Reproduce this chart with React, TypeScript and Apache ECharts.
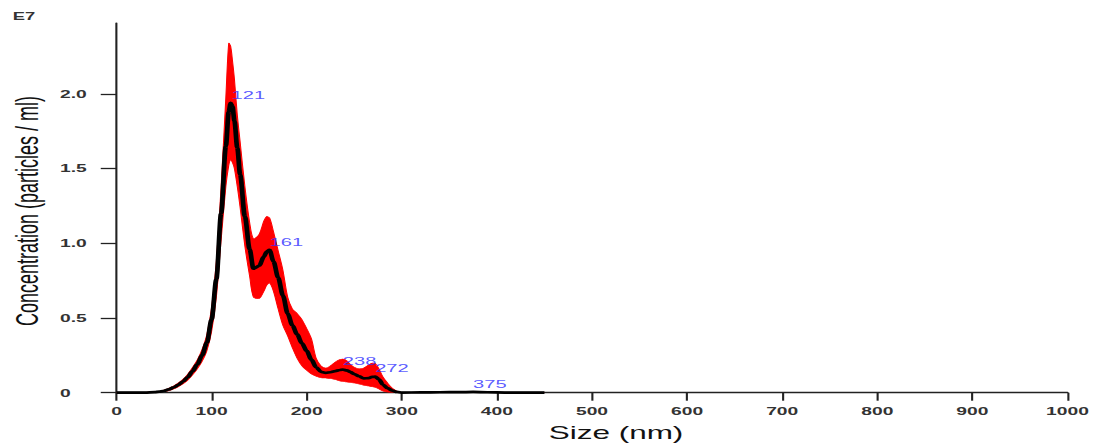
import React, { useEffect, useRef } from "react";
import * as echarts from "echarts";

// Size (nm)
const sizes = [
  0, 20, 30, 40, 45, 50, 55, 60, 65, 70,
  75, 80, 85, 90, 95, 100, 105, 110, 115, 118,
  120, 122, 124, 127, 130, 135, 140, 144, 150, 155, 158,
  161, 165, 170, 175, 180, 185, 190, 195, 200, 205,
  210, 215, 220, 225, 230, 235, 238, 242, 246, 250,
  255, 260, 265, 269, 272, 276, 280, 285, 290, 295,
  300, 320, 340, 360, 375, 390, 410, 430, 450,
];

// Mean concentration (E7 particles / ml)
const meanConc = [
  0, 0, 0.001, 0.004, 0.007, 0.013, 0.022, 0.035, 0.052, 0.075,
  0.105, 0.145, 0.19, 0.25, 0.335, 0.49, 0.76, 1.2, 1.65, 1.88,
  1.94, 1.915, 1.82, 1.64, 1.46, 1.18, 0.96, 0.83, 0.85, 0.91, 0.945,
  0.956, 0.88, 0.77, 0.65, 0.53, 0.45, 0.39, 0.33, 0.28, 0.22,
  0.17, 0.14, 0.133, 0.137, 0.145, 0.152, 0.155, 0.15, 0.138, 0.125,
  0.11, 0.096, 0.098, 0.106, 0.107, 0.09, 0.055, 0.03, 0.014, 0.005,
  0.001, 0.002, 0.003, 0.004, 0.005, 0.003, 0.001, 0, 0,
];

// Upper edge of the error band
const upperConc = [
  0, 0, 0.002, 0.006, 0.01, 0.018, 0.03, 0.045, 0.065, 0.09,
  0.125, 0.17, 0.22, 0.29, 0.39, 0.57, 0.88, 1.38, 1.98, 2.34,
  2.32, 2.22, 2.1, 1.86, 1.68, 1.38, 1.14, 1.03, 1.06, 1.15, 1.18,
  1.17, 1.08, 0.95, 0.82, 0.64, 0.56, 0.53, 0.49, 0.43, 0.36,
  0.23, 0.18, 0.165, 0.18, 0.205, 0.222, 0.225, 0.215, 0.19, 0.17,
  0.16, 0.165, 0.185, 0.198, 0.196, 0.16, 0.108, 0.065, 0.03, 0.01,
  0.002, 0.003, 0.004, 0.005, 0.006, 0.004, 0.001, 0, 0,
];

// Lower edge of the error band
const lowerConc = [
  0, 0, 0, 0.002, 0.004, 0.008, 0.014, 0.025, 0.04, 0.06,
  0.085, 0.12, 0.16, 0.21, 0.28, 0.41, 0.64, 1.02, 1.38, 1.52,
  1.56, 1.54, 1.5, 1.38, 1.24, 0.98, 0.78, 0.64, 0.63, 0.68, 0.72,
  0.735, 0.68, 0.56, 0.45, 0.38, 0.3, 0.23, 0.18, 0.15, 0.125,
  0.11, 0.1, 0.098, 0.095, 0.088, 0.078, 0.075, 0.072, 0.068, 0.065,
  0.058, 0.05, 0.045, 0.04, 0.037, 0.025, 0.012, 0.004, 0.001, 0,
  0, 0.001, 0.002, 0.003, 0.004, 0.002, 0, 0, 0,
];

const peakSizes = [121, 161, 238, 272, 375];
const peakConc = [1.94, 0.956, 0.155, 0.107, 0.005];

const yTickValues = [0, 0.5, 1, 1.5, 2];

const STRETCH = 1.75;
const PAGE_W = 1103;
const PAGE_H = 446;
const FONT = "'Liberation Sans', Arial, sans-serif";

export default function App() {
  const ref = useRef<HTMLDivElement>(null);

  useEffect(() => {
    if (!ref.current) return;
    const chart = echarts.init(ref.current, null, { renderer: "svg" });
    const pairs = (ys: number[]) => sizes.map((s, i) => [s, ys[i]]);
    const axisColor = "#222";

    const renderBand = (_params: any, api: any) => {
      const pts: number[][] = [];
      for (let i = 0; i < sizes.length; i++) pts.push(api.coord([sizes[i], upperConc[i]]));
      for (let i = sizes.length - 1; i >= 0; i--) pts.push(api.coord([sizes[i], lowerConc[i]]));
      return {
        type: "polygon",
        shape: { points: pts, smooth: 0.3 },
        style: { fill: "#ff0000", stroke: "#ff0000", lineWidth: 0.6 },
        silent: true,
      };
    };

    chart.setOption({
      animation: false,
      backgroundColor: "#ffffff",
      grid: { left: 66.57, right: 20, top: 23, bottom: 53.3, outerBoundsMode: "none" },
      xAxis: {
        type: "value",
        min: 0,
        max: 1000,
        interval: 100,
        axisLine: { show: true, onZero: false, lineStyle: { color: axisColor, width: 1.3 } },
        axisTick: { show: true, length: 8, lineStyle: { color: axisColor, width: 1.2 } },
        axisLabel: {
          margin: 13,
          fontFamily: FONT,
          fontWeight: "bold",
          fontSize: 11,
          color: "#333",
          formatter: (v: number) => String(v),
        },
        splitLine: { show: false },
      },
      yAxis: {
        type: "value",
        min: 0,
        max: 2.475,
        interval: 0.5,
        axisLine: { show: true, onZero: false, lineStyle: { color: axisColor, width: 1.2 } },
        axisTick: {
          show: true,
          length: 9,
          customValues: yTickValues,
          lineStyle: { color: axisColor, width: 1.3 },
        },
        axisLabel: {
          customValues: yTickValues,
          align: "left",
          margin: 32.3,
          fontFamily: FONT,
          fontWeight: "bold",
          fontSize: 11,
          color: "#333",
          formatter: (v: number) => (v === 0 ? "0" : v.toFixed(1)),
        },
        splitLine: { show: false },
      },
      graphic: [
        {
          type: "text",
          x: 7.3,
          y: 16,
          style: {
            text: "E7",
            fontFamily: FONT,
            fontWeight: "bold",
            fontSize: 10.5,
            fill: "#333",
            align: "left",
            verticalAlign: "middle",
          },
        },
        {
          type: "text",
          x: 15.4,
          y: 211,
          rotation: Math.PI / 2,
          style: {
            text: "Concentration (particles / ml)",
            fontFamily: FONT,
            fontSize: 18,
            fill: "#111",
            align: "center",
            verticalAlign: "middle",
          },
        },
        {
          type: "text",
          x: 352,
          y: 433,
          style: {
            text: "Size (nm)",
            fontFamily: FONT,
            fontSize: 18,
            fill: "#111",
            align: "center",
            verticalAlign: "middle",
          },
        },
      ],
      series: [
        {
          type: "custom",
          data: [0],
          renderItem: renderBand,
          silent: true,
          clip: true,
          z: 2,
        },
        {
          type: "line",
          data: pairs(meanConc),
          symbol: "none",
          smooth: 0.3,
          smoothMonotone: "x",
          lineStyle: { color: "#000000", width: 2.7 },
          silent: true,
          z: 3,
        },
        {
          type: "scatter",
          data: peakSizes.map((s, i) => [s, peakConc[i]]),
          symbolSize: 1,
          itemStyle: { color: "transparent" },
          label: {
            show: true,
            position: "top",
            align: "left",
            distance: 2,
            formatter: (p: any) => String(p.value[0]),
            color: "#2f2fff",
            fontSize: 11.5,
            fontFamily: FONT,
          },
          silent: true,
          z: 4,
        },
      ],
    });

    return () => chart.dispose();
  }, []);

  return (
    <div
      style={{
        position: "fixed",
        left: 0,
        top: 0,
        width: PAGE_W,
        height: PAGE_H,
        overflow: "hidden",
        background: "#ffffff",
      }}
    >
      <div
        ref={ref}
        style={{
          width: PAGE_W / STRETCH,
          height: PAGE_H,
          transform: `scaleX(${STRETCH})`,
          transformOrigin: "0 0",
        }}
      />
    </div>
  );
}
